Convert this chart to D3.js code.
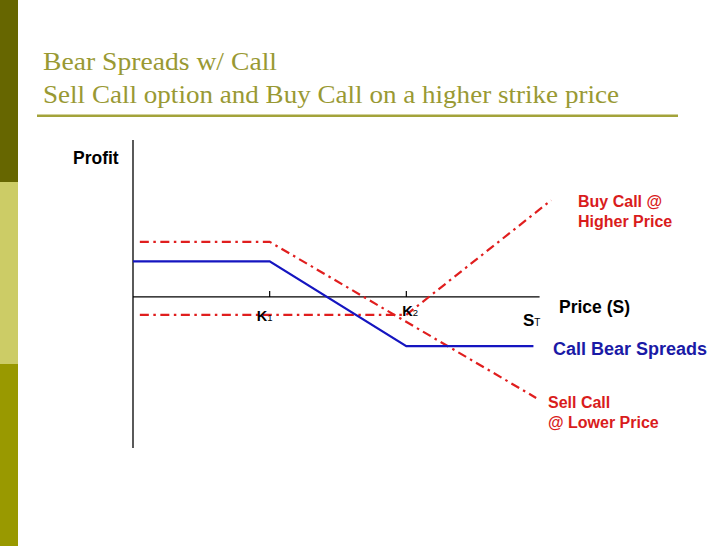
<!DOCTYPE html>
<html><head><meta charset="utf-8">
<script src="https://cdn.jsdelivr.net/npm/d3@7"></script>
<style>
html,body{margin:0;padding:0;background:#fff;}
svg{display:block;}
</style></head>
<body>
<svg id="c" width="728" height="546"></svg>
<script>
// ---- data ----
const titleLines = ["Bear Spreads w/ Call", "Sell Call option and Buy Call on a higher strike price"];
const strikes = [{name:"K", sub:"1", s:10}, {name:"K", sub:"2", s:20}];
const bearSpread = [[0,4.2],[10,4.2],[20,-5.8],[29.3,-5.8]];
const sellCall = [[0.5,6.5],[10,6.5],[29.5,-11.9]];
const buyCall = [[0.5,-2.1],[20,-2.1],[30.6,11.4]];
const seriesLabels = [
  {lines:["Buy Call @","Higher Price"], color:"#d91c1c"},
  {lines:["Call Bear Spreads"], color:"#1a1aa6"},
  {lines:["Sell Call","@ Lower Price"], color:"#d91c1c"}
];
const xDomain = [0,30], yDomain = [-17.8,18.5];

const svg = d3.select("#c");

// left decorative bar
const bands = [{y0:0,y1:182,c:"#666600"},{y0:182,y1:364,c:"#cccc66"},{y0:364,y1:546,c:"#999900"}];
svg.selectAll("rect.band").data(bands).join("rect")
  .attr("x",0).attr("width",18).attr("y",d=>d.y0).attr("height",d=>d.y1-d.y0).attr("fill",d=>d.c);

// title
const tl = svg.append("g");
tl.append("text").attr("x",43).attr("y",70).text(titleLines[0])
  .attr("font-family","Liberation Serif").attr("font-size",26).attr("fill","#999933")
  .attr("textLength",234).attr("lengthAdjust","spacingAndGlyphs");
tl.append("text").attr("x",43).attr("y",103).text(titleLines[1])
  .attr("font-family","Liberation Serif").attr("font-size",26).attr("fill","#999933")
  .attr("textLength",576).attr("lengthAdjust","spacingAndGlyphs");
svg.append("rect").attr("x",37).attr("y",114.5).attr("width",641).attr("height",2.5).attr("fill","#a3a33a");

// scales
const x = d3.scaleLinear().domain(xDomain).range([133,543]);
const y = d3.scaleLinear().domain(yDomain).range([448,140]);

// axes
svg.append("line").attr("x1",x(0)).attr("x2",x(0)).attr("y1",y(yDomain[1])).attr("y2",y(yDomain[0]))
  .attr("stroke","#000").attr("stroke-width",1.3);
svg.append("line").attr("x1",x(0)).attr("x2",x(29.75)).attr("y1",y(0)).attr("y2",y(0))
  .attr("stroke","#000").attr("stroke-width",1.3);
svg.selectAll("line.tick").data(strikes).join("line")
  .attr("x1",d=>x(d.s)).attr("x2",d=>x(d.s)).attr("y1",y(0)).attr("y2",y(0)-6)
  .attr("stroke","#000").attr("stroke-width",1.2);

const line = d3.line().x(d=>x(d[0])).y(d=>y(d[1]));

svg.append("path").attr("d",line(sellCall)).attr("fill","none").attr("stroke","#e01e1e")
  .attr("stroke-width",2.2).attr("stroke-dasharray","9,4.5,2.5,4.5");
svg.append("path").attr("d",line(buyCall)).attr("fill","none").attr("stroke","#e01e1e")
  .attr("stroke-width",2.2).attr("stroke-dasharray","9,4.5,2.5,4.5");
svg.append("path").attr("d",line(bearSpread)).attr("fill","none").attr("stroke","#1515c0")
  .attr("stroke-width",2.2);

const font = "Liberation Sans, Arial, sans-serif";
// axis labels
svg.append("text").attr("x",73).attr("y",164).text("Profit")
  .attr("font-family",font).attr("font-weight","bold").attr("font-size",17.5).attr("fill","#000");
svg.append("text").attr("x",559).attr("y",313).text("Price (S)")
  .attr("font-family",font).attr("font-weight","bold").attr("font-size",17.5).attr("fill","#000");
const st = svg.append("text").attr("x",523).attr("y",326)
  .attr("font-family",font).attr("font-weight","bold").attr("font-size",17).attr("fill","#000");
st.append("tspan").text("S");
st.append("tspan").text("T").attr("font-size",10).attr("font-weight","normal");

// strike labels
const kOff = [{dx:-13,y:321},{dx:-4,y:316}];
strikes.forEach((k,i)=>{
  const t = svg.append("text").attr("x",x(k.s)+kOff[i].dx).attr("y",kOff[i].y)
    .attr("font-family",font).attr("font-weight","bold").attr("font-size",14.5).attr("fill","#000");
  t.append("tspan").text(k.name);
  t.append("tspan").text(k.sub).attr("font-size",9.5).attr("font-weight","normal");
});

// series labels
const labelPos = [{x:578,y:207,fs:16,lh:20},{x:553,y:355,fs:18,lh:20},{x:548,y:408,fs:16,lh:19.5}];
seriesLabels.forEach((s,i)=>{
  const p = labelPos[i];
  s.lines.forEach((ln,j)=>{
    svg.append("text").attr("x",p.x).attr("y",p.y+j*p.lh).text(ln)
      .attr("font-family",font).attr("font-weight","bold").attr("font-size",p.fs).attr("fill",s.color);
  });
});
</script>
</body></html>
